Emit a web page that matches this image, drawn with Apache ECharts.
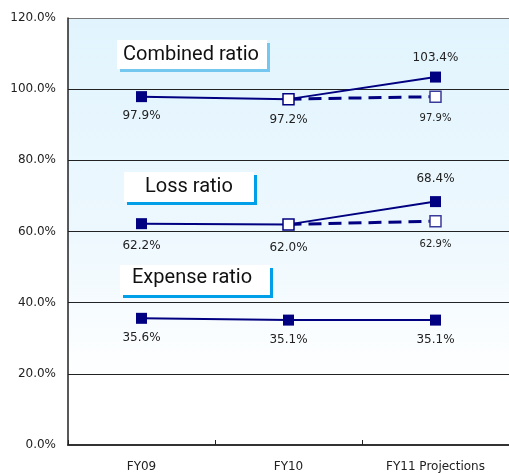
<!DOCTYPE html>
<html>
<head>
<meta charset="utf-8">
<script src="https://cdn.jsdelivr.net/npm/echarts@6/dist/echarts.min.js"></script>
<style>html,body{margin:0;padding:0;background:#fff}#c{width:509px;height:473px}</style>
</head>
<body>
<div id="c"></div>
<script>
const categories = ['FY09', 'FY10', 'FY11 Projections'];
const combined = [97.9, 97.2, 103.4];
const combinedProj = [null, 97.2, 97.9];
const loss = [62.2, 62.0, 68.4];
const lossProj = [null, 62.0, 62.9];
const expense = [35.6, 35.1, 35.1];
const hollowIdx = [1]; // FY10 markers drawn hollow on combined & loss
const solidLabelPos = ['bottom', 'bottom', 'top'];
const yMin = 0, yMax = 120, yStep = 20;

const NAVY = '#000080';
const chart = echarts.init(document.getElementById('c'));

function solidData(vals, hollow, positions, dist) {
  return vals.map((v, i) => ({
    value: v,
    itemStyle: hollow.includes(i) ? { color: '#fff', borderColor: NAVY, borderWidth: 1.5 } : { color: NAVY },
    label: { position: positions[i], distance: dist }
  }));
}
function projData(vals, dist) {
  return vals.map((v, i) => {
    if (v === null) return null;
    if (i === vals.length - 1) {
      return { value: v, itemStyle: { color: '#fff', borderColor: '#3a3a9a', borderWidth: 1.5 },
        label: { show: true, position: 'bottom', distance: dist, fontSize: 10 } };
    }
    return { value: v, symbol: 'none', label: { show: false } };
  });
}

const labelBase = {
  show: true, color: '#222', fontSize: 12, fontFamily: 'DejaVu Sans',
  formatter: p => p.value.toFixed(1) + '%'
};

const boxes = [
  { x: 117, y: 40, w: 150, h: 29, shadow: '#74C8F0', off: 3, text: 'Combined ratio', tx: 123, ty: 55 },
  { x: 124, y: 172, w: 130, h: 30, shadow: '#009FE8', off: 3, text: 'Loss ratio', tx: 145, ty: 187 },
  { x: 120, y: 265, w: 150, h: 30, shadow: '#009FE8', off: 3, text: 'Expense ratio', tx: 132, ty: 278 }
];
const graphics = [];
boxes.forEach(b => {
  graphics.push({ type: 'rect', z: 100, shape: { x: b.x + b.off, y: b.y + b.off, width: b.w, height: b.h }, style: { fill: b.shadow } });
  graphics.push({ type: 'rect', z: 101, shape: { x: b.x, y: b.y, width: b.w, height: b.h }, style: { fill: '#fff' } });
  graphics.push({ type: 'text', z: 102, x: b.tx, y: b.ty, style: { text: b.text, font: '20px Roboto', fill: '#111', textVerticalAlign: 'middle' } });
});

chart.setOption({
  animation: false,
  grid: {
    left: 68, right: 0, top: 18, bottom: 25, show: true, borderWidth: 0,
    backgroundColor: new echarts.graphic.LinearGradient(0, 0, 0, 1, [
      { offset: 0, color: '#E1F4FD' },
      { offset: 0.5, color: '#EDF8FE' },
      { offset: 0.85, color: '#FFFFFF' },
      { offset: 1, color: '#FFFFFF' }
    ])
  },
  xAxis: {
    type: 'category', data: categories, boundaryGap: true,
    axisLine: { lineStyle: { color: '#333', width: 2 } },
    axisTick: { show: true, inside: true, length: 5, lineStyle: { color: '#222' } },
    axisLabel: { color: '#222', fontSize: 12, fontFamily: 'DejaVu Sans', margin: 16 }
  },
  yAxis: {
    type: 'value', min: yMin, max: yMax, interval: yStep,
    axisLine: { show: true, lineStyle: { color: '#222', width: 1.5 } },
    axisTick: { show: false },
    axisLabel: { color: '#222', fontSize: 12, fontFamily: 'DejaVu Sans', margin: 12, formatter: v => v.toFixed(1) + '%' },
    splitLine: { show: true, lineStyle: { color: ['#222', '#222', '#222', '#222', '#222', '#222', '#777'], width: 1 } }
  },
  graphic: graphics,
  series: [
    { type: 'line', z: 3, data: projData(combinedProj, 11), symbol: 'rect', symbolSize: 11,
      lineStyle: { color: NAVY, width: 3, type: [13, 7] }, label: labelBase },
    { type: 'line', z: 4, data: solidData(combined, hollowIdx, solidLabelPos, 8), symbol: 'rect', symbolSize: 11,
      lineStyle: { color: NAVY, width: 2 }, label: labelBase },
    { type: 'line', z: 3, data: projData(lossProj, 12), symbol: 'rect', symbolSize: 11,
      lineStyle: { color: NAVY, width: 3, type: [13, 7] }, label: labelBase },
    { type: 'line', z: 4, data: solidData(loss, hollowIdx, solidLabelPos, 11), symbol: 'rect', symbolSize: 11,
      lineStyle: { color: NAVY, width: 2 }, label: labelBase },
    { type: 'line', z: 4, data: solidData(expense, [], ['bottom', 'bottom', 'bottom'], 8), symbol: 'rect', symbolSize: 11,
      lineStyle: { color: NAVY, width: 2 }, label: labelBase }
  ]
});
</script>
</body>
</html>
